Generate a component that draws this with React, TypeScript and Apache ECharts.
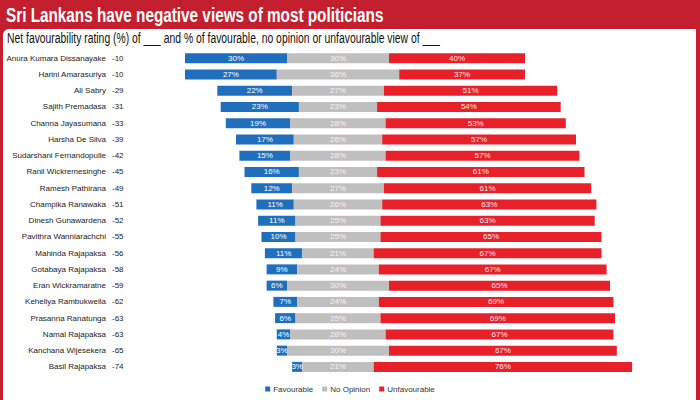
import React, { useEffect, useRef } from "react";
import * as echarts from "echarts";

const names = [
  "Anura Kumara Dissanayake",
  "Harini Amarasuriya",
  "Ali Sabry",
  "Sajith Premadasa",
  "Channa Jayasumana",
  "Harsha De Silva",
  "Sudarshani Fernandopulle",
  "Ranil Wickremesinghe",
  "Ramesh Pathirana",
  "Champika Ranawaka",
  "Dinesh Gunawardena",
  "Pavithra Wanniarachchi",
  "Mahinda Rajapaksa",
  "Gotabaya Rajapaksa",
  "Eran Wickramaratne",
  "Keheliya Rambukwella",
  "Prasanna Ranatunga",
  "Namal Rajapaksa",
  "Kanchana Wijesekera",
  "Basil Rajapaksa",
];
const netRating = [-10, -10, -29, -31, -33, -39, -42, -45, -49, -51, -52, -55, -56, -58, -59, -62, -63, -63, -65, -74];
const favourable = [30, 27, 22, 23, 19, 17, 15, 16, 12, 11, 11, 10, 11, 9, 6, 7, 6, 4, 3, 3];
const noOpinion = [30, 36, 27, 23, 28, 26, 28, 23, 27, 26, 25, 25, 21, 24, 30, 24, 25, 28, 30, 21];
const unfavourable = [40, 37, 51, 54, 53, 57, 57, 61, 61, 63, 63, 65, 67, 67, 65, 69, 69, 67, 67, 76];

const TITLE = "Sri Lankans have negative views of most politicians";
const SUBTITLE = "Net favourability rating (%) of ___ and % of favourable, no opinion or unfavourable view of ___";
const CENTER = 60;

function measure(text: string, font: string): number {
  const c = document.createElement("canvas");
  const ctx = c.getContext("2d");
  if (!ctx) return text.length * 8;
  ctx.font = font;
  return ctx.measureText(text).width;
}

export default function App() {
  const ref = useRef<HTMLDivElement>(null);
  useEffect(() => {
    document.body.style.margin = "0";
    if (!ref.current) return;
    const chart = echarts.init(ref.current, null, { renderer: "svg" });
    const ff = '"Liberation Sans", Arial, sans-serif';
    const titleW = measure(TITLE, `bold 21px ${ff}`);
    const subW = measure(SUBTITLE, `14px ${ff}`);
    const titleScale = 378 / titleW;
    const subScale = 433 / subW;
    const offset = favourable.map((f, i) => CENTER - f - noOpinion[i] / 2);
    const lbl = (color: string) => ({
      show: true,
      position: "inside" as const,
      color,
      fontSize: 8,
      fontFamily: ff,
      formatter: (p: any) => `${p.value}%`,
    });
    chart.setOption({
      animation: false,
      graphic: [
        { type: "rect", z: -10, shape: { x: 0, y: 0, width: 700, height: 400 }, style: { fill: "#c41f2e" } },
        { type: "rect", z: -9, shape: { x: 3, y: 29, width: 693, height: 380, r: [6, 0, 0, 0] }, style: { fill: "#ffffff" } },
        {
          type: "text",
          z: 10,
          x: 6,
          y: 4,
          scaleX: titleScale,
          style: { text: TITLE, fill: "#ffffff", font: `bold 21px ${ff}`, textVerticalAlign: "top" },
        },
        {
          type: "text",
          z: 10,
          x: 7,
          y: 31,
          scaleX: subScale,
          style: { text: SUBTITLE, fill: "#111111", font: `14px ${ff}`, textVerticalAlign: "top" },
        },
      ],
      legend: {
        data: ["Favourable", "No Opinion", "Unfavourable"],
        bottom: 2,
        left: "center",
        itemWidth: 5,
        itemHeight: 5,
        itemGap: 9,
        icon: "rect",
        textStyle: { fontSize: 8, fontFamily: ff, color: "#333", padding: [0, 0, 0, -2] },
      },
      grid: { left: 134, right: 22, top: 50, bottom: 25, containLabel: false },
      xAxis: { type: "value", min: 0, max: 160, show: false },
      yAxis: [
        {
          type: "category",
          data: names,
          inverse: true,
          position: "left",
          axisLine: { show: false },
          axisTick: { show: false },
          axisLabel: { interval: 0, margin: 28, align: "right", fontSize: 8, fontFamily: ff, color: "#222" },
        },
        {
          type: "category",
          data: netRating.map(String),
          inverse: true,
          position: "left",
          axisLine: { show: false },
          axisTick: { show: false },
          axisLabel: { interval: 0, margin: 22, align: "left", fontSize: 8, fontFamily: ff, color: "#222" },
        },
      ],
      series: [
        {
          name: "offset",
          type: "bar",
          stack: "s",
          yAxisIndex: 0,
          data: offset,
          barWidth: 10,
          silent: true,
          itemStyle: { color: "rgba(0,0,0,0)" },
        },
        {
          name: "Favourable",
          type: "bar",
          stack: "s",
          yAxisIndex: 0,
          data: favourable,
          barWidth: 10,
          itemStyle: { color: "#1f6fbd" },
          label: lbl("#ffffff"),
        },
        {
          name: "No Opinion",
          type: "bar",
          stack: "s",
          yAxisIndex: 0,
          data: noOpinion,
          barWidth: 10,
          itemStyle: { color: "#bfbfbf" },
          label: lbl("#f4f4f4"),
        },
        {
          name: "Unfavourable",
          type: "bar",
          stack: "s",
          yAxisIndex: 0,
          data: unfavourable,
          barWidth: 10,
          itemStyle: { color: "#e8202a" },
          label: lbl("#ffe8e8"),
        },
      ],
    });
    return () => chart.dispose();
  }, []);
  return <div ref={ref} style={{ width: 700, height: 400 }} />;
}
